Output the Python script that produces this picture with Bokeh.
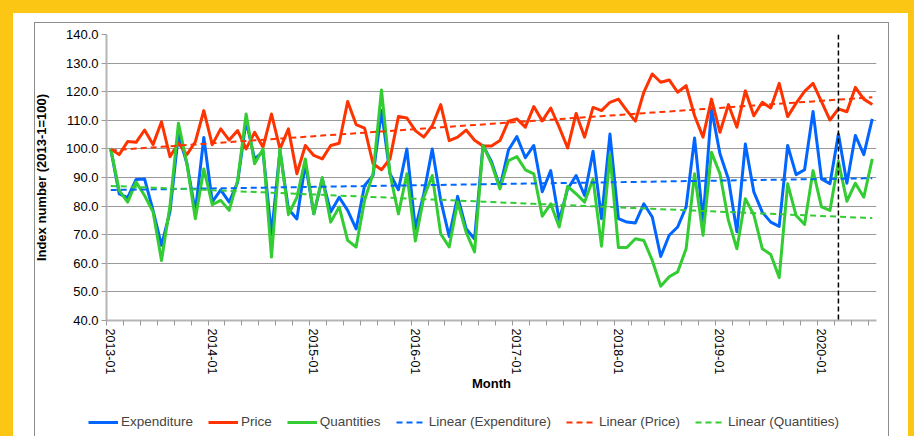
import numpy as np
from bokeh.plotting import figure
from bokeh.models import (Range1d, FixedTicker, NumeralTickFormatter, Legend,
                          LegendItem, Span)
from bokeh.embed import file_html
from bokeh.resources import INLINE

# ---------------- data ----------------
months = [f"{2013 + k // 12}-{k % 12 + 1:02d}" for k in range(91)]   # 2013-01 .. 2020-07

expenditure = [
    100, 84.3, 83, 89.3, 89.5, 78.5, 66.3, 78, 105, 95, 78, 104, 81.5,
    85.7, 81.4, 88.4, 109.9, 96.5, 99, 70, 99.4, 79, 75.5, 94.8, 77.3,
    89.5, 77.9, 83.1, 78.5, 72, 87.2, 90.7, 113.4, 91.3, 85.7, 100, 72.1,
    84.3, 100, 82, 69.4, 83.4, 72.1, 68.5, 101.2, 95.5, 86.6, 99.6, 104.3,
    96.9, 101.2, 85, 92.4, 75, 86, 90.7, 83.7, 99.2, 75.6, 105.2, 75.6,
    74.4, 74.1, 80.8, 76.2, 62.4, 69.8, 72.7, 79.7, 103.8, 75, 114, 98.3,
    89.5, 71, 101.7, 85, 77.9, 74.4, 72.9, 101.2, 91, 92.7, 113.1, 89.5,
    87.8, 105.2, 88, 104.7, 98, 110.5]

price = [
    100, 98, 102.6, 102.3, 106.6, 101.5, 109.5, 97.3, 102, 98, 102.5, 113.4, 101.5,
    107, 103.1, 106.4, 100, 105.8, 100.6, 112.2, 100, 107, 91.3, 101.2, 97.7,
    96.5, 101.2, 102, 116.6, 108.5, 107.3, 94.8, 92.7, 96.5, 111.3, 110.8, 106.4,
    104.1, 108.1, 115.5, 102.9, 104.1, 106.6, 103, 101, 101, 102.9, 109.7, 110.5,
    107.6, 114.8, 109.8, 114.3, 107.6, 100.3, 112.4, 104.1, 114.5, 113.4, 116.3, 117.4,
    113.4, 109.7, 119.8, 126.2, 123.3, 124.1, 119.8, 122.1, 111.6, 104.1, 117.4, 105.8,
    115.5, 107.6, 120.3, 111.6, 116.3, 114.3, 122.9, 111.3, 116, 120.1, 122.9, 116.5,
    110.1, 114, 113, 121.5, 117.4, 115.5]

quantities = [
    100, 85.5, 81.4, 88.4, 83.7, 78, 61, 80, 109, 94.8, 75.6, 93, 80.5,
    82, 78.5, 89, 112.2, 94.8, 100, 62.2, 100, 77, 83, 96.5, 77.3,
    90, 74.4, 79.7, 68, 65.7, 82, 91.3, 120.6, 91.3, 77.3, 91.3, 67.8,
    83.1, 90.7, 70.3, 65.7, 81.4, 70.9, 64, 101.2, 94.8, 86, 95.9, 97.3,
    92.7, 91.3, 76.5, 80.8, 72.7, 86.9, 84.3, 81.4, 89.5, 66, 98, 65.5,
    65.5, 68.6, 68, 61, 52, 55.3, 57, 65.1, 91.3, 69.8, 98.8, 91.3,
    75, 65.1, 82.6, 77, 65.1, 63.1, 55, 87.8, 76.7, 73.6, 92.4, 79.7,
    78.5, 95.7, 81.7, 88, 83.1, 96.5]

series_names = ["Expenditure", "Price", "Quantities"]
y_ticks = [40, 50, 60, 70, 80, 90, 100, 110, 120, 130, 140]
x_label_idx = [0, 12, 24, 36, 48, 60, 72, 84]
event_month = "2020-03"

# ---------------- style ----------------
BLUE, RED, GREEN = "#0066FF", "#FF3300", "#33CC33"
YELLOW = "#FCC614"
FONT = "Liberation Sans, Arial, sans-serif"
cols = [BLUE, RED, GREEN]

x = list(range(len(months)))

p = figure(width=895, height=392,
           x_range=Range1d(-0.5, len(months) - 0.5), y_range=Range1d(40, 140),
           output_backend="svg", toolbar_location=None,
           min_border_left=93, min_border_right=32, min_border_top=21,
           min_border_bottom=85)
p.background_fill_color = "white"
p.border_fill_color = "white"
p.outline_line_color = None

# axes
p.yaxis.ticker = FixedTicker(ticks=y_ticks)
p.yaxis.formatter = NumeralTickFormatter(format="0.0")
p.ygrid.ticker = FixedTicker(ticks=y_ticks)
p.ygrid.grid_line_color = "#9A9A9A"
p.ygrid.grid_line_width = 1
p.xgrid.grid_line_color = None

p.xaxis.ticker = FixedTicker(ticks=x_label_idx,
                             minor_ticks=[k - 0.5 for k in range(0, len(months) + 1, 2)])
p.xaxis.major_label_overrides = {i: months[i] for i in x_label_idx}
p.xaxis.major_label_orientation = "vertical"
p.xaxis.major_tick_line_color = None
p.xaxis.major_tick_out = 0
p.xaxis.major_tick_in = 0
p.xaxis.minor_tick_out = 5
p.xaxis.minor_tick_in = 0
p.xaxis.minor_tick_line_color = "#9A9A9A"
p.xaxis.major_label_standoff = 3
p.xaxis.axis_label = "Month"
p.xaxis.axis_label_standoff = -1

p.yaxis.major_tick_out = 5
p.yaxis.major_tick_in = 0
p.yaxis.minor_tick_line_color = None
p.yaxis.major_tick_line_color = "#9A9A9A"
p.yaxis.major_label_standoff = 3
p.yaxis.axis_label = "Index number (2013-1=100)"
p.yaxis.axis_label_standoff = 14

for ax in (p.xaxis[0], p.yaxis[0]):
    ax.axis_line_color = "#B5B5B5"
    ax.axis_line_width = 2
    ax.major_label_text_font = FONT
    ax.major_label_text_color = "black"
    ax.axis_label_text_font = FONT
    ax.axis_label_text_font_style = "bold"
    ax.axis_label_text_font_size = "13px"
    ax.axis_label_text_color = "black"
p.xaxis.major_label_text_font_size = "12.5px"
p.yaxis.major_label_text_font_size = "13px"

# series
data = [expenditure, price, quantities]
for vals, c in zip(data, cols):
    p.line(x, vals, line_color=c, line_width=3, line_join="round")

# linear trend lines (least squares on each series)
for vals, c in zip(data, cols):
    k, b = np.polyfit(x, vals, 1)
    p.line(x, [k * xi + b for xi in x], line_color=c, line_width=2, line_dash="6 4")

# event marker
p.add_layout(Span(location=months.index(event_month), dimension="height",
                  line_color="black", line_width=1.5, line_dash="5 3"))

# ---------------- legend strip (separate figure so it is not clipped) ----------------
lg = figure(width=895, height=31, x_range=Range1d(0, 1), y_range=Range1d(0, 1),
            output_backend="svg", toolbar_location=None, min_border=0,
            x_axis_type=None, y_axis_type=None)
lg.outline_line_color = None
lg.background_fill_color = "white"
lg.border_fill_color = "white"
# proxies lying outside the visible range: only their legend swatches show
proxy_x, proxy_y = [-5, -4], [-5, -5]
solid = [lg.line(proxy_x, proxy_y, line_color=c, line_width=3) for c in cols]
dashed = [lg.line(proxy_x, proxy_y, line_color=c, line_width=2, line_dash="6 4") for c in cols]
items = [LegendItem(label=n, renderers=[r]) for n, r in zip(series_names, solid)]
items += [LegendItem(label=f"Linear ({n})", renderers=[r]) for n, r in zip(series_names, dashed)]
legend = Legend(items=items, orientation="horizontal", location=(75, 7),
                label_text_font=FONT, label_text_font_size="13.5px",
                glyph_width=30, glyph_height=14, label_standoff=3, spacing=15,
                padding=4, margin=0, border_line_color=None,
                background_fill_alpha=0)
lg.add_layout(legend, "center")

html = file_html([p, lg], INLINE)
html = html.replace(
    "</head>",
    f"<style>html {{ background-color: {YELLOW}; margin: 0; overflow: hidden; }} "
    "body { margin: 0; padding: 0; position: absolute; left: 13px; top: 13px; "
    "width: 895px; height: 423px; background-color: white; overflow: hidden; }"
    "</style></head>", 1)
html = html.replace(
    "</body>",
    '<div style="position:absolute; left:21px; top:9px; width:853px; height:420px; '
    'border:1px solid #8C8C8C; background:transparent; pointer-events:none;"></div></body>', 1)
open("out.html", "w").write(html)
